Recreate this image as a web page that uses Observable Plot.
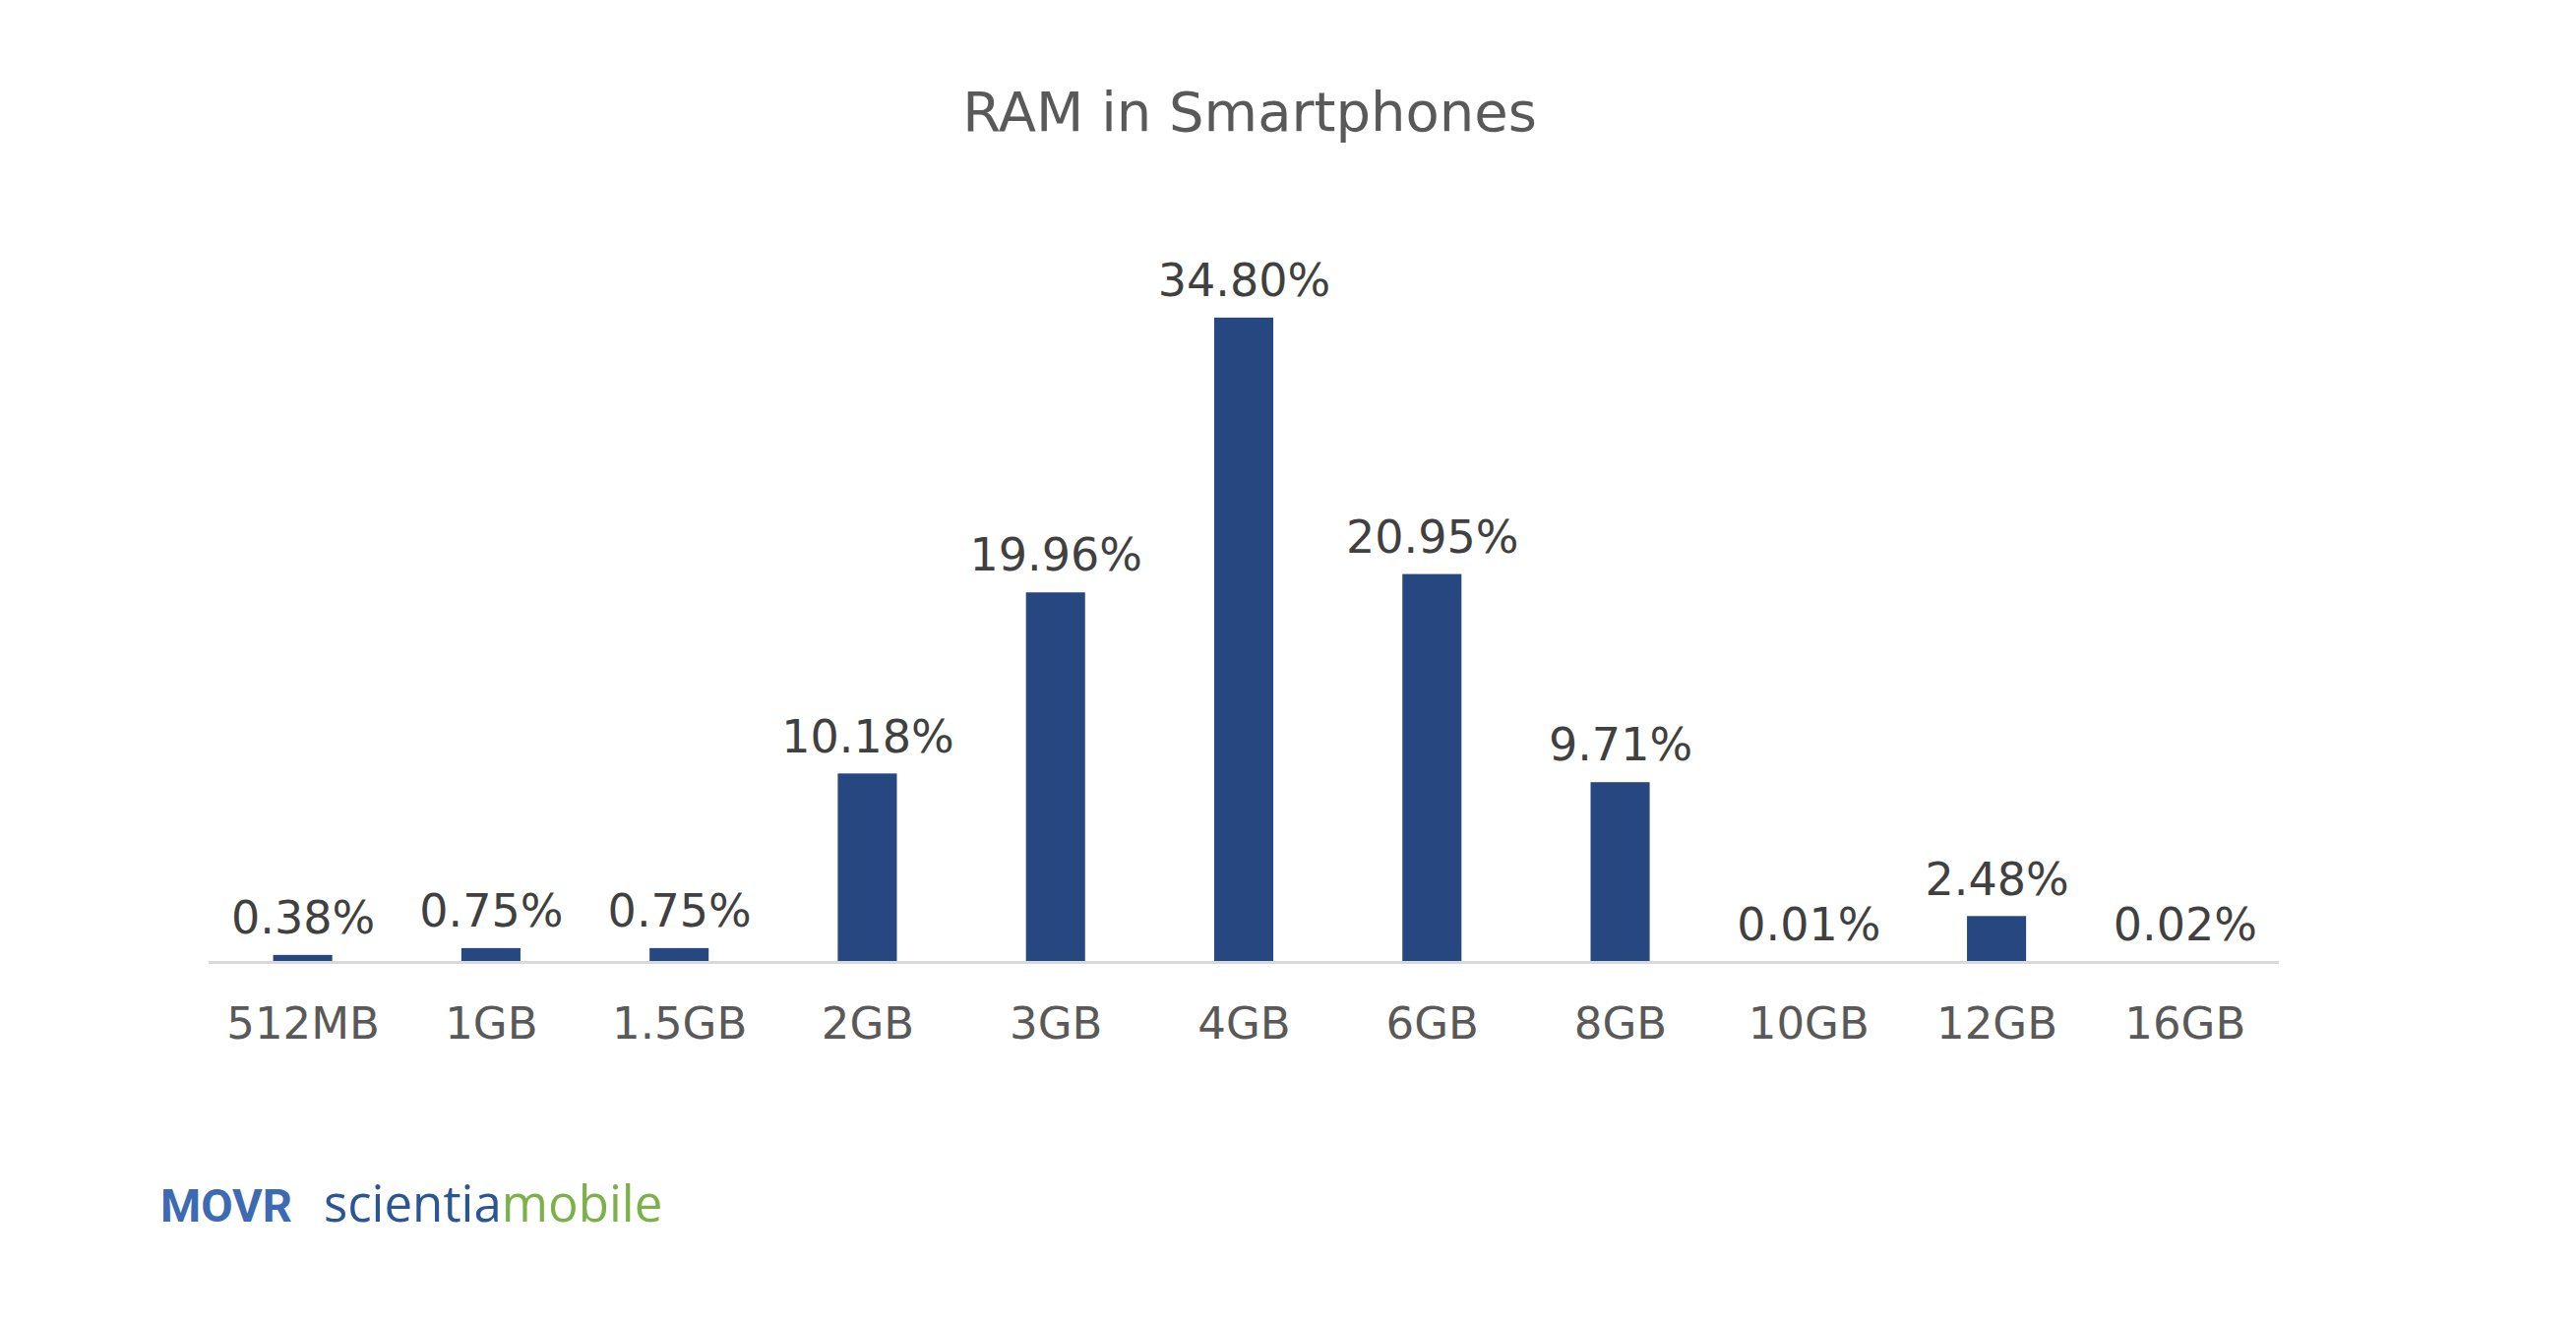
<!DOCTYPE html>
<html>
<head>
<meta charset="utf-8">
<script src="https://cdn.jsdelivr.net/npm/d3@7"></script>
<script src="https://cdn.jsdelivr.net/npm/@observablehq/plot@0.6"></script>
<style>
  html, body { margin: 0; padding: 0; background: #ffffff; }
  #page { position: relative; width: 2618px; height: 1342px; overflow: hidden; background: #fff; }
  #title { position: absolute; left: 570px; width: 1400px; top: 86px; text-align: center;
           font-family: "DejaVu Sans", Verdana, sans-serif; font-size: 56px; line-height: 1; color: #595959; white-space: nowrap; }
  #chart { position: absolute; left: 0; top: 200px; }
  #logo { position: absolute; left: 163px; top: 1197px; white-space: nowrap; line-height: 1; }
  #movr { font-family: Roboto, sans-serif; font-weight: 700; font-size: 47px; color: #3d6bb3; }
  #sci { font-family: "Open Sans", sans-serif; font-size: 51px; color: #2b5695; margin-left: 32px; }
  #mob { font-family: "Open Sans", sans-serif; font-size: 51px; color: #7cb04a; }
</style>
</head>
<body>
<div id="page">
  <div id="title">RAM in Smartphones</div>
  <div id="chart"></div>
  <div id="logo"><span id="movr">MOVR</span><span id="sci">scientia</span><span id="mob">mobile</span></div>
</div>
<script>
const categories = ["512MB", "1GB", "1.5GB", "2GB", "3GB", "4GB", "6GB", "8GB", "10GB", "12GB", "16GB"];
const shares = [0.38, 0.75, 0.75, 10.18, 19.96, 34.80, 20.95, 9.71, 0.01, 2.48, 0.02];

const data = categories.map((c, i) => ({ram: c, share: shares[i]}));

const chart = Plot.plot({
  width: 2618,
  height: 898,
  marginLeft: 212,
  marginRight: 302,
  marginTop: 25,
  marginBottom: 120,
  style: { fontFamily: "DejaVu Sans, Verdana, sans-serif", background: "white", overflow: "visible" },
  x: { domain: categories, paddingInner: 0.686, paddingOuter: 0.343, round: false, label: null },
  y: { domain: [0, 40], axis: null },
  marks: [
    Plot.barY(data, { x: "ram", y: "share", fill: "#264780" }),
    Plot.ruleY([0], { stroke: "#d9d9d9", strokeWidth: 3 }),
    Plot.text(data, { x: "ram", y: "share", text: d => d.share.toFixed(2) + "%", dy: -37,
                      fontSize: 46, fill: "#404040" }),
    Plot.axisX({ tickSize: 0, tickPadding: 46, fontSize: 45, color: "#595959", label: null })
  ]
});
chart.querySelectorAll("g[aria-label='x-axis tick label'] text").forEach(t => t.setAttribute("fill", "#595959"));
document.getElementById("chart").appendChild(chart);
</script>
</body>
</html>
